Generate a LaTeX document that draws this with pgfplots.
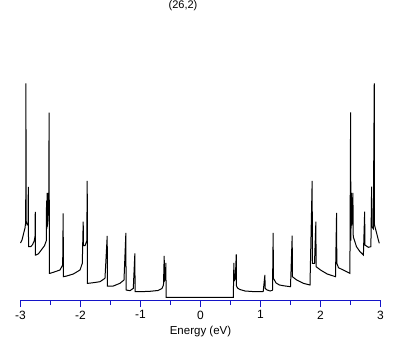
\documentclass[border=0pt]{standalone}
\usepackage{fontspec}
\setmainfont{Liberation Sans}
\usepackage{pgfplots}
\pgfplotsset{compat=1.18}
\definecolor{axblue}{RGB}{20,20,200}
\begin{document}
\begin{tikzpicture}
\begin{axis}[
  at={(0,0)}, anchor=south west,
  scale only axis, width=360pt, height=220pt,
  xmin=-3, xmax=3, ymin=0, ymax=220,
  axis x line=bottom, axis y line=none,
  x axis line style={-, axblue, line width=0.9pt},
  every tick/.style={axblue, line width=0.9pt},
  tick align=outside,
  major tick length=6.5pt, minor tick length=4.5pt,
  xtick={-3,-2,-1,0,1,2,3},
  xticklabels={-3,-2,-1,0,1,2,3},
  minor xtick={-2.5,-1.5,-0.5,0.5,1.5,2.5},
  /pgf/number format/assume math mode=true,
  xticklabel style={font=\fontsize{12}{14}\selectfont, text=black},
  xlabel={Energy (eV)},
  xlabel style={font=\fontsize{11.5}{13}\selectfont, at={(axis description cs:0.5,0)}, anchor=center, yshift=-31pt},
  title={(26,2)},
  title style={font=\fontsize{11}{13}\selectfont, at={(axis description cs:0.4514,1.3123)}, anchor=center},
  clip=false,
]
\addplot[black, line width=1pt] coordinates {
(-3.000,57.7) (-2.975,60.7) (-2.942,68.7) (-2.925,72.7) (-2.913,78.7)
(-2.911,167.7) (-2.909,217.4) (-2.907,80) (-2.890,76) (-2.874,77)
(-2.870,113.7) (-2.866,54) (-2.830,54) (-2.800,56) (-2.770,60)
(-2.756,65) (-2.754,88.7) (-2.751,45.7) (-2.740,45.7) (-2.700,47)
(-2.650,51) (-2.600,55) (-2.570,60) (-2.566,100) (-2.562,72)
(-2.557,107.7) (-2.553,74) (-2.545,80) (-2.541,107.7) (-2.537,85)
(-2.530,90) (-2.523,188) (-2.519,27.4) (-2.508,27.4) (-2.453,28.4)
(-2.342,30.7) (-2.297,35.7) (-2.289,87.4) (-2.285,24) (-2.230,24.7)
(-2.120,26.7) (-2.008,30.7) (-1.970,37.4) (-1.955,79) (-1.950,55)
(-1.925,55) (-1.895,60) (-1.888,119.7) (-1.884,17.4) (-1.870,17.4)
(-1.787,18) (-1.675,19) (-1.592,22.4) (-1.555,64.7) (-1.551,14.7)
(-1.542,14.7) (-1.453,14.7) (-1.342,17.4) (-1.275,20.7) (-1.244,67.7)
(-1.240,10.7) (-1.175,10) (-1.120,12.4) (-1.094,47.4) (-1.090,9)
(-1.008,9) (-0.842,9.4) (-0.708,10.2) (-0.642,12.2) (-0.617,15.7)
(-0.605,44.7) (-0.600,20) (-0.585,22) (-0.577,37.7) (-0.573,3.4)
(0.547,3.4) (0.556,37.7) (0.562,20) (0.580,22) (0.596,46.4)
(0.600,14.7) (0.620,12.5) (0.658,11.2) (0.742,9.7) (0.908,9)
(1.045,9.2) (1.073,25.7) (1.078,12.5) (1.100,11) (1.160,9.7)
(1.200,10.5) (1.211,67.7) (1.215,22.4) (1.260,17.7) (1.316,15.7)
(1.400,14.8) (1.500,14) (1.528,65) (1.532,24) (1.603,20.7)
(1.713,17.4) (1.825,15.7) (1.861,119.7) (1.865,37.4) (1.900,37.4)
(1.923,79) (1.927,34) (2.000,30.7) (2.112,26.7) (2.250,24)
(2.268,87.7) (2.272,37.4) (2.300,33) (2.435,29) (2.490,27.4)
(2.502,188.4) (2.506,60) (2.515,107.7) (2.520,75) (2.530,90)
(2.540,107.7) (2.546,64) (2.600,54) (2.658,49) (2.715,45.7)
(2.736,89) (2.740,55.7) (2.797,53.4) (2.840,54) (2.852,114)
(2.856,74) (2.880,72) (2.896,217.4) (2.900,75.7) (2.936,67.4)
(2.964,60.7) (2.980,57.4)
};
\end{axis}
\pgfresetboundingbox
\path (-20.5pt,-44.3pt) rectangle (388.5pt,300.7pt);
\end{tikzpicture}
\end{document}
